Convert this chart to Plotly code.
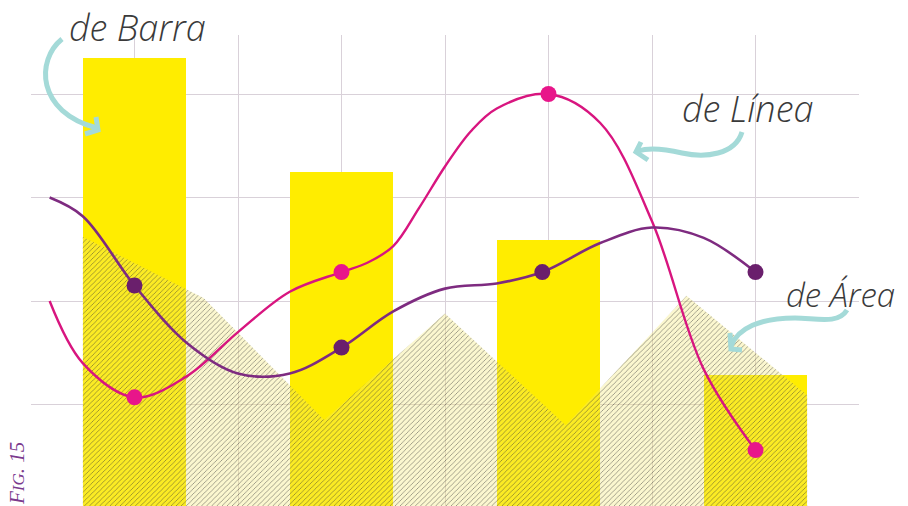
import plotly.graph_objects as go

# ---------------- data ----------------
barra_x = [1, 3, 5, 7]
barra_y = [4.35, 3.25, 2.59, 1.29]

area_x = [0.5, 1.667, 2.833, 4.0, 5.167, 6.333, 7.5]
area_y = [2.62, 2.03, 0.85, 1.88, 0.80, 2.05, 1.09]

rosa_x = [0.18, 0.5, 1.0, 1.5, 2.0, 2.5, 3.0, 3.25, 3.5, 3.75, 4.0, 4.25, 4.5, 5.0, 5.5, 6.0, 6.5, 7.0]
rosa_y = [2.00, 1.40, 1.07, 1.27, 1.70, 2.09, 2.28, 2.37, 2.53, 2.90, 3.30, 3.64, 3.86, 4.00, 3.72, 2.77, 1.34, 0.56]
rosa_marca_x = [1, 3, 5, 7]
rosa_marca_y = [1.07, 2.28, 4.00, 0.56]

morada_x = [0.18, 0.5, 1.0, 1.5, 2.0, 2.5, 3.0, 3.5, 4.0, 4.5, 4.94, 5.5, 6.0, 6.5, 7.0]
morada_y = [3.00, 2.82, 2.15, 1.60, 1.30, 1.30, 1.55, 1.90, 2.12, 2.17, 2.28, 2.56, 2.71, 2.61, 2.28]
morada_marca_x = [1, 3, 4.94, 7]
morada_marca_y = [2.15, 1.55, 2.28, 2.28]

etiquetas = ["de Barra", "de Línea", "de Área"]
figura = ["F", "IG", ". 15"]

# ---------------- geometry helpers (window pixel -> paper) ----------------
OFF = 8                      # page body margin
W, H = 900, 498              # figure size (fits the 908x506 window)
L, R, T, B = 23, 49, 27, 0   # plot area: window x 31..859, y 35..506
PW, PH = W - L - R, H - T - B


def px(x):
    return (x - OFF - L) / PW


def py(y):
    return (H - B - (y - OFF)) / PH


def path(cmds):
    out = []
    for c in cmds:
        if isinstance(c, str):
            out.append(c)
        else:
            out.append(f"{px(c[0]):.5f},{py(c[1]):.5f}")
    return " ".join(out)


fig = go.Figure()

fig.add_trace(go.Bar(
    x=barra_x, y=barra_y, width=1.0,
    marker=dict(color="#FFED00", line=dict(width=0)),
    hoverinfo="skip", showlegend=False,
))

fig.add_trace(go.Scatter(
    x=area_x, y=area_y, mode="lines", fill="tozeroy",
    line=dict(width=0, color="rgba(0,0,0,0)"),
    fillcolor="rgba(242,230,110,0.33)",
    fillpattern=dict(shape="/", bgcolor="rgba(242,230,110,0.33)",
                     fgcolor="#333333", fgopacity=0.6,
                     size=3.6, solidity=0.2),
    hoverinfo="skip", showlegend=False,
))

fig.add_trace(go.Scatter(
    x=rosa_x, y=rosa_y, mode="lines",
    line=dict(color="#D8157F", width=2.4, shape="spline", smoothing=1.0),
    hoverinfo="skip", showlegend=False,
))
fig.add_trace(go.Scatter(
    x=morada_x, y=morada_y, mode="lines",
    line=dict(color="#7E2B80", width=2.6, shape="spline", smoothing=1.0),
    hoverinfo="skip", showlegend=False,
))
fig.add_trace(go.Scatter(
    x=rosa_marca_x, y=rosa_marca_y, mode="markers",
    marker=dict(color="#E8168A", size=16, line=dict(width=0)),
    hoverinfo="skip", showlegend=False,
))
fig.add_trace(go.Scatter(
    x=morada_marca_x, y=morada_marca_y, mode="markers",
    marker=dict(color="#6A1F6C", size=16, line=dict(width=0)),
    hoverinfo="skip", showlegend=False,
))

# ---------------- arrows ----------------
teal = "#A4DAD8"
arrows = [
    ["M", (62, 39), "C", (36, 60), (36, 112), (97, 128)],
    ["M", (96, 117), "L", (98, 130), "L", (85, 134)],
    ["M", (742, 132), "C", (735, 155), (705, 158), (682, 153),
     "C", (665, 149), (650, 147), (638, 151)],
    ["M", (641, 142), "L", (636, 152), "L", (648, 160)],
    ["M", (847, 310), "C", (838, 325), (815, 318), (795, 318),
     "C", (760, 318), (738, 328), (731, 346)],
    ["M", (730, 333), "L", (731, 349), "L", (742, 350)],
]
shapes = [dict(type="path", xref="paper", yref="paper", path=path(a),
               line=dict(color=teal, width=5), layer="above")
          for a in arrows]


def lfont(size):
    return dict(family="Open Sans", size=size, color="#3a3a3a",
                weight=300, style="italic")


annotations = [
    dict(text=etiquetas[0], x=px(67), y=py(27), xref="paper", yref="paper",
         xanchor="left", yanchor="middle", showarrow=False, font=lfont(36)),
    dict(text=etiquetas[1], x=px(680), y=py(109), xref="paper", yref="paper",
         xanchor="left", yanchor="middle", showarrow=False, font=lfont(36)),
    dict(text=etiquetas[2], x=px(784), y=py(294), xref="paper", yref="paper",
         xanchor="left", yanchor="middle", showarrow=False, font=lfont(33)),
    dict(text=f"{figura[0]}<span style='font-size:17px'>{figura[1]}</span>{figura[2]}",
         x=px(17), y=py(474), xref="paper", yref="paper",
         xanchor="center", yanchor="middle", textangle=-90, showarrow=False,
         font=dict(family="Liberation Serif", size=21, color="#7B3A8E",
                   style="italic")),
]

grid = "#D9D1D9"
fig.update_layout(
    width=W, height=H,
    margin=dict(l=L, r=R, t=T, b=B, pad=0),
    paper_bgcolor="white", plot_bgcolor="white",
    bargap=0, barmode="overlay",
    xaxis=dict(range=[0, 8], dtick=1, tick0=0, showgrid=True, gridcolor=grid,
               gridwidth=1, showticklabels=False, ticks="", zeroline=False,
               showline=False, fixedrange=True),
    yaxis=dict(range=[0.02, 4.57], dtick=1, tick0=0, showgrid=True,
               gridcolor=grid, gridwidth=1, showticklabels=False, ticks="",
               zeroline=False, showline=False, fixedrange=True),
    shapes=shapes,
    annotations=annotations,
    showlegend=False,
)

fig.write_html("out.html")
